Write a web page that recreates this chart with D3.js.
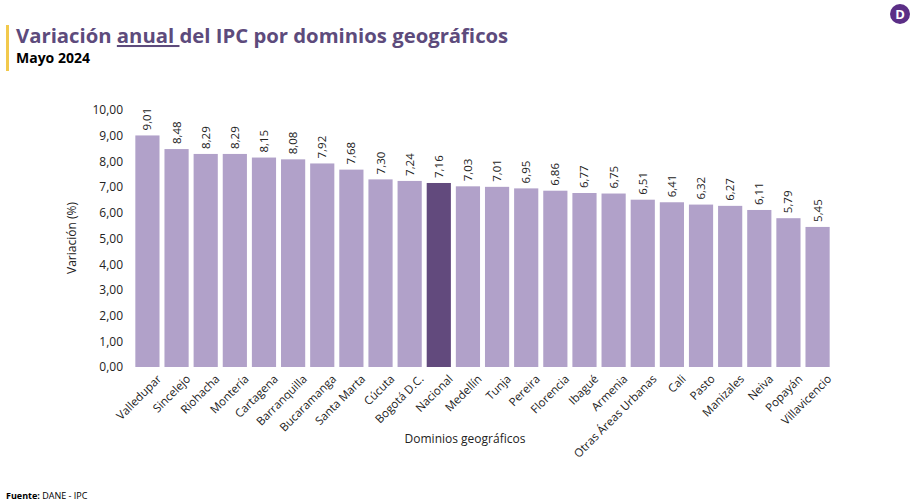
<!DOCTYPE html>
<html>
<head>
<meta charset="utf-8">
<script src="https://cdn.jsdelivr.net/npm/d3@7"></script>
<style>
  body { margin: 0; background: #fff; font-family: "Open Sans", "Noto Sans", sans-serif; }
</style>
</head>
<body>
<svg id="chart" width="924" height="504"></svg>
<script>
// data
const domains = ["Valledupar", "Sincelejo", "Riohacha", "Montería", "Cartagena", "Barranquilla",
    "Bucaramanga", "Santa Marta", "Cúcuta", "Bogotá D.C.", "Nacional", "Medellín", "Tunja",
    "Pereira", "Florencia", "Ibagué", "Armenia", "Otras Áreas Urbanas", "Cali", "Pasto",
    "Manizales", "Neiva", "Popayán", "Villavicencio"];
const values = [9.01, 8.48, 8.29, 8.29, 8.15, 8.08, 7.92, 7.68, 7.30, 7.24, 7.16, 7.03, 7.01,
    6.95, 6.86, 6.77, 6.75, 6.51, 6.41, 6.32, 6.27, 6.11, 5.79, 5.45];
const yTicks = [0, 1, 2, 3, 4, 5, 6, 7, 8, 9, 10];

const data = domains.map((d, i) => ({ name: d, value: values[i] }));
const fmt = v => d3.format(".2f")(v).replace(".", ",");

let svg = d3.select("#chart");

// header
svg.append("rect").attr("x", 6).attr("y", 25).attr("width", 3).attr("height", 46).attr("fill", "#f2c94c");
let title = svg.append("text").attr("x", 16).attr("y", 43)
    .style("font-size", "20.3px").style("font-weight", "bold").attr("fill", "#5d4b7c");
title.append("tspan").text("Variación ");
title.append("tspan").text("anual ").style("text-decoration", "underline");
title.append("tspan").text("del IPC por dominios geográficos");
svg.append("text").attr("x", 16).attr("y", 63).text("Mayo 2024")
    .style("font-size", "14px").style("font-weight", "bold").attr("fill", "#000");

// logo
svg.append("circle").attr("cx", 900).attr("cy", 14).attr("r", 10).attr("fill", "#5b2e86");
svg.append("text").attr("x", 900).attr("y", 19).attr("text-anchor", "middle").text("D")
    .style("font-size", "13px").style("font-weight", "bold").attr("fill", "#fff");

let margin = { top: 110, left: 133, right: 92, bottom: 137 };
let width = 924 - margin.left - margin.right;
let height = 504 - margin.top - margin.bottom;

let g = svg.append("g").attr("transform", `translate(${margin.left},${margin.top})`);

let x = d3.scaleBand().domain(domains).range([0, width]).paddingInner(0.17).paddingOuter(0.08);
let y = d3.scaleLinear().domain([0, 10]).range([height, 0]);

let yAxis = g.append("g")
    .call(d3.axisLeft(y).tickValues(yTicks).tickFormat(fmt).tickSize(0).tickPadding(10));
yAxis.select(".domain").remove();
yAxis.selectAll("text").style("font-size", "12px").attr("fill", "#222")
    .style("font-family", "'Open Sans', sans-serif");

g.selectAll("rect.bar")
    .data(data)
    .enter()
    .append("rect")
        .attr("class", "bar")
        .attr("x", d => x(d.name))
        .attr("y", d => y(d.value))
        .attr("width", x.bandwidth())
        .attr("height", d => height - y(d.value))
        .attr("fill", d => d.name === "Nacional" ? "#624a7d" : "#b1a1c9");

g.selectAll("text.val")
    .data(data)
    .enter()
    .append("text")
        .attr("class", "val")
        .attr("transform", d => `translate(${x(d.name) + x.bandwidth() / 2 + 4},${y(d.value) - 5}) rotate(-90)`)
        .text(d => fmt(d.value))
        .style("font-size", "11.5px").attr("fill", "#222");

let xAxis = g.append("g").attr("transform", `translate(0,${height})`)
    .call(d3.axisBottom(x).tickSize(0).tickPadding(6));
xAxis.select(".domain").remove();
xAxis.selectAll("text")
    .style("font-size", "11.5px").attr("fill", "#222")
    .style("font-family", "'Open Sans', sans-serif")
    .attr("text-anchor", "end")
    .attr("dy", "0.3em")
    .attr("transform", "translate(8,6) rotate(-45)");

svg.append("text").attr("x", 465).attr("y", 443).attr("text-anchor", "middle")
    .text("Dominios geográficos").style("font-size", "12px").attr("fill", "#222");
svg.append("text").attr("transform", "translate(76,238) rotate(-90)").attr("text-anchor", "middle")
    .text("Variación (%)").style("font-size", "12px").attr("fill", "#222");

let f = svg.append("text").attr("x", 6).attr("y", 499).style("font-size", "9px").attr("fill", "#000");
f.append("tspan").text("Fuente: ").style("font-weight", "bold");
f.append("tspan").text("DANE - IPC");
</script>
</body>
</html>
